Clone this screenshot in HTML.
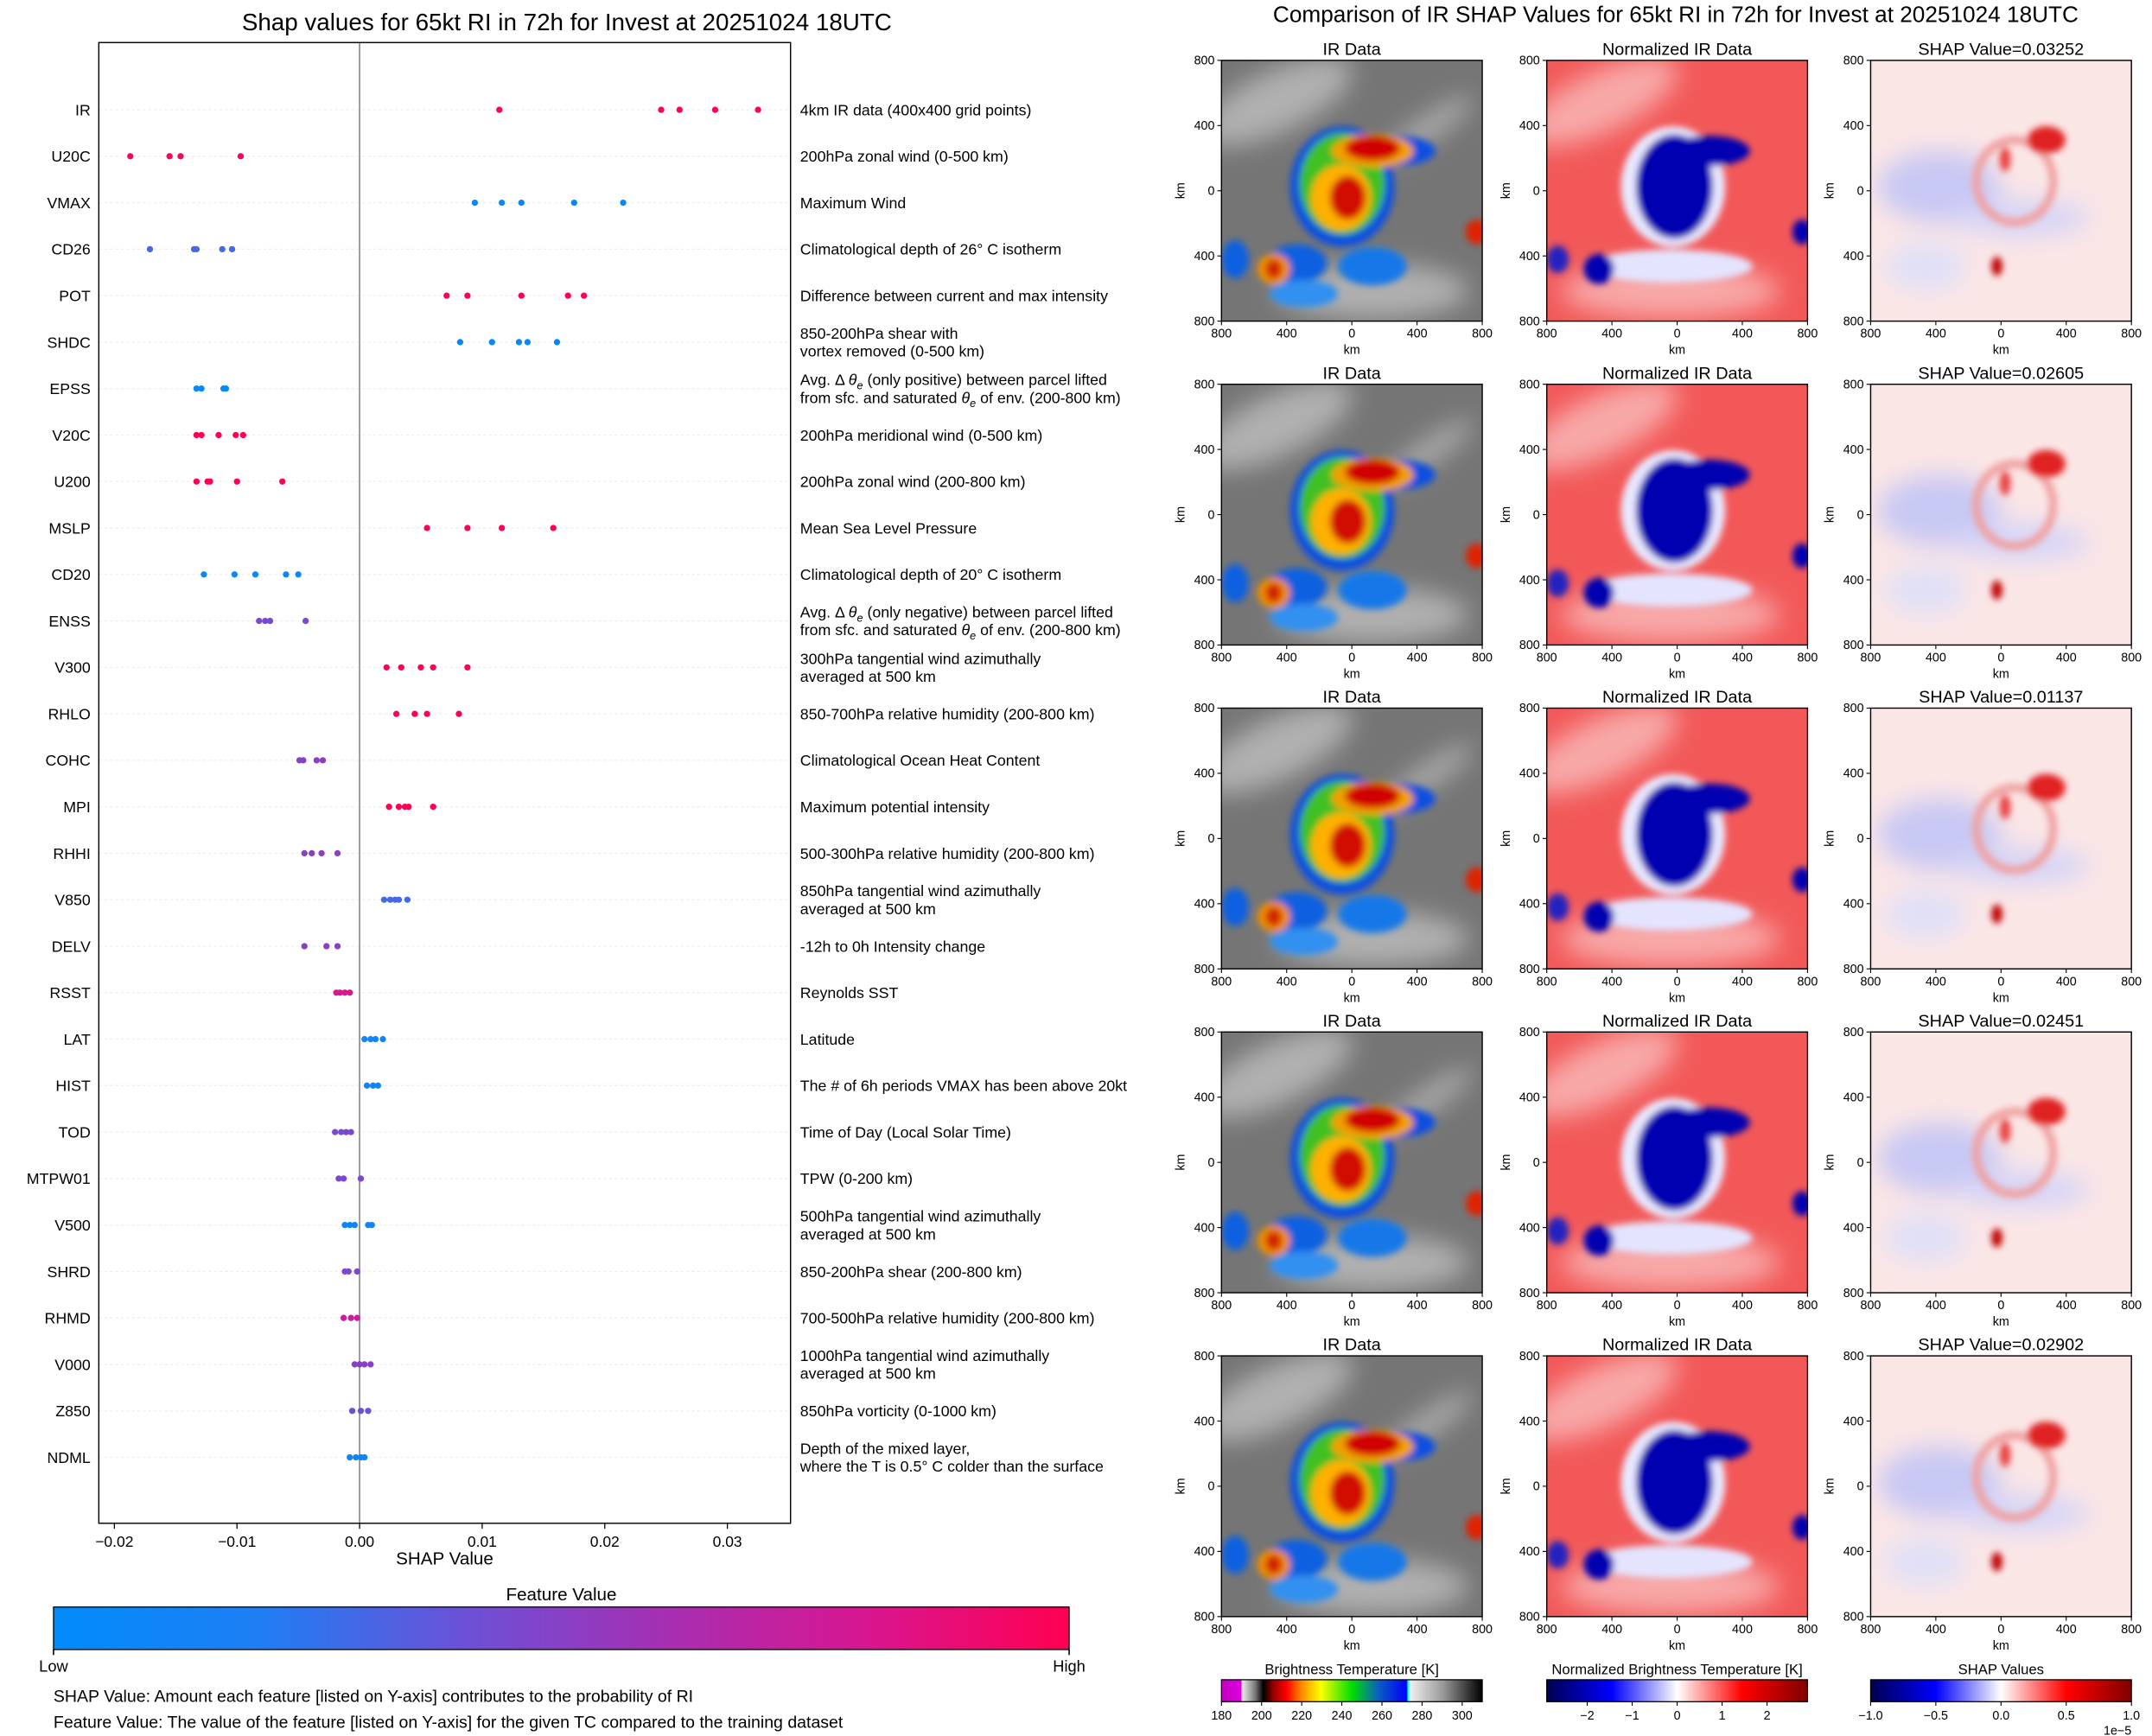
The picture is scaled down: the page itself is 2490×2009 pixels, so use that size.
<!DOCTYPE html>
<html><head><meta charset="utf-8"><style>
html,body{margin:0;padding:0;background:#fff}
svg{display:block}
text{font-family:"Liberation Sans","DejaVu Sans",sans-serif;fill:#000}
</style></head><body>
<svg id="root" width="2490" height="2009" viewBox="0 0 1568 1265" preserveAspectRatio="none" xmlns="http://www.w3.org/2000/svg">
<defs>
<linearGradient id="shapcm" x1="0" x2="1" y1="0" y2="0">
<stop offset="0" stop-color="#008bfb"/><stop offset="0.2" stop-color="#1e7ef4"/><stop offset="0.4" stop-color="#6a52d8"/><stop offset="0.6" stop-color="#a52fb2"/><stop offset="0.8" stop-color="#d81690"/><stop offset="1" stop-color="#ff0052"/>
</linearGradient>
<linearGradient id="ircm" x1="0" x2="1">
<stop offset="0" stop-color="#c000c0"/><stop offset="0.076" stop-color="#e000e0"/><stop offset="0.078" stop-color="#f0f0f0"/><stop offset="0.13" stop-color="#777"/><stop offset="0.16" stop-color="#000"/><stop offset="0.2" stop-color="#900"/><stop offset="0.25" stop-color="#f00"/><stop offset="0.31" stop-color="#ff9000"/><stop offset="0.38" stop-color="#ff0"/><stop offset="0.5" stop-color="#0d0"/><stop offset="0.6" stop-color="#0a60c0"/><stop offset="0.71" stop-color="#00f"/><stop offset="0.715" stop-color="#0ff"/><stop offset="0.725" stop-color="#eee"/><stop offset="0.85" stop-color="#999"/><stop offset="1" stop-color="#000"/>
</linearGradient>
<linearGradient id="seis" x1="0" x2="1">
<stop offset="0" stop-color="#000050"/><stop offset="0.25" stop-color="#0000ff"/><stop offset="0.5" stop-color="#ffffff"/><stop offset="0.75" stop-color="#ff0000"/><stop offset="1" stop-color="#800000"/>
</linearGradient>
<filter id="bl" x="-20%" y="-20%" width="140%" height="140%"><feGaussianBlur stdDeviation="2.5"/></filter>
<filter id="bl2" x="-20%" y="-20%" width="140%" height="140%"><feGaussianBlur stdDeviation="9"/></filter>
<clipPath id="pclip"><rect x="0" y="0" width="190" height="190"/></clipPath>
<symbol id="irimg" viewBox="0 0 190 190" width="190" height="190">
<g clip-path="url(#pclip)">
<rect width="190" height="190" fill="#757575"/>
<g filter="url(#bl2)" fill="#b0b0b0"><ellipse cx="40" cy="30" rx="60" ry="22" transform="rotate(-25 40 30)"/><ellipse cx="110" cy="168" rx="70" ry="20"/><ellipse cx="150" cy="50" rx="40" ry="8" transform="rotate(-35 150 50)"/></g>
<g filter="url(#bl)">
<ellipse cx="55" cy="148" rx="22" ry="14" fill="#1060e0"/>
<ellipse cx="110" cy="150" rx="25" ry="14" fill="#1878e8"/>
<ellipse cx="60" cy="170" rx="25" ry="10" fill="#3090f0"/>
<ellipse cx="10" cy="145" rx="10" ry="14" fill="#1060e0"/>
<ellipse cx="88" cy="92" rx="38" ry="44" fill="#1050e0"/>
<ellipse cx="128" cy="66" rx="28" ry="11" fill="#1050e0"/>
<ellipse cx="88" cy="90" rx="31" ry="37" fill="#40c020"/>
<ellipse cx="87" cy="100" rx="22" ry="24" fill="#ffb000"/>
<ellipse cx="110" cy="66" rx="30" ry="12" fill="#f0a000"/>
<ellipse cx="110" cy="64" rx="20" ry="9" fill="#d00000"/>
<ellipse cx="92" cy="100" rx="13" ry="16" fill="#d01000"/>
<ellipse cx="38" cy="152" rx="12" ry="11" fill="#f09000"/>
<ellipse cx="38" cy="152" rx="6" ry="7" fill="#d02000"/>
<ellipse cx="186" cy="125" rx="8" ry="9" fill="#e02000"/>
</g></g></symbol>
<symbol id="nrimg" viewBox="0 0 190 190" width="190" height="190">
<g clip-path="url(#pclip)">
<rect width="190" height="190" fill="#f25858"/>
<g filter="url(#bl2)" fill="#f8a8a8"><ellipse cx="40" cy="30" rx="60" ry="22" transform="rotate(-25 40 30)"/><ellipse cx="90" cy="168" rx="80" ry="20"/></g>
<g filter="url(#bl)">
<ellipse cx="92" cy="92" rx="38" ry="44" fill="#e8e8ff"/>
<ellipse cx="90" cy="150" rx="60" ry="12" fill="#e4e4ff"/>
<ellipse cx="93" cy="92" rx="28" ry="38" fill="#0000b0"/>
<ellipse cx="118" cy="66" rx="30" ry="11" fill="#0000b0"/>
<ellipse cx="38" cy="152" rx="11" ry="11" fill="#0000b0"/>
<ellipse cx="8" cy="145" rx="8" ry="10" fill="#2020c0"/>
<ellipse cx="186" cy="125" rx="7" ry="9" fill="#0000b0"/>
</g></g></symbol>
<symbol id="shimg" viewBox="0 0 190 190" width="190" height="190">
<g clip-path="url(#pclip)">
<rect width="190" height="190" fill="#fbe6e6"/>
<g filter="url(#bl2)">
<ellipse cx="50" cy="92" rx="45" ry="26" fill="#c8c8f4"/>
<ellipse cx="110" cy="115" rx="50" ry="13" fill="#d4d4f8"/>
<ellipse cx="40" cy="150" rx="30" ry="18" fill="#e0e0f8"/>
</g>
<g filter="url(#bl)">
<ellipse cx="105" cy="88" rx="28" ry="30" fill="none" stroke="#f0a0a0" stroke-width="6"/>
<ellipse cx="128" cy="58" rx="14" ry="10" fill="#e02020"/>
<ellipse cx="98" cy="72" rx="4" ry="9" fill="#e84040"/>
<ellipse cx="92" cy="150" rx="4" ry="7" fill="#c00000"/>
</g></g></symbol>
</defs>
</svg>
<script>
// ---- left chart data ----
const features = ["IR","U20C","VMAX","CD26","POT","SHDC","EPSS","V20C","U200","MSLP","CD20","ENSS","V300","RHLO","COHC","MPI","RHHI","V850","DELV","RSST","LAT","HIST","TOD","MTPW01","V500","SHRD","RHMD","V000","Z850","NDML"];
const descriptions = [["4km IR data (400x400 grid points)"],["200hPa zonal wind (0-500 km)"],["Maximum Wind"],["Climatological depth of 26° C isotherm"],["Difference between current and max intensity"],["850-200hPa shear with","vortex removed (0-500 km)"],["Avg. Δ θe (only positive) between parcel lifted","from sfc. and saturated θe of env. (200-800 km)"],["200hPa meridional wind (0-500 km)"],["200hPa zonal wind (200-800 km)"],["Mean Sea Level Pressure"],["Climatological depth of 20° C isotherm"],["Avg. Δ θe (only negative) between parcel lifted","from sfc. and saturated θe of env. (200-800 km)"],["300hPa tangential wind azimuthally","averaged at 500 km"],["850-700hPa relative humidity (200-800 km)"],["Climatological Ocean Heat Content"],["Maximum potential intensity"],["500-300hPa relative humidity (200-800 km)"],["850hPa tangential wind azimuthally","averaged at 500 km"],["-12h to 0h Intensity change"],["Reynolds SST"],["Latitude"],["The # of 6h periods VMAX has been above 20kt"],["Time of Day (Local Solar Time)"],["TPW (0-200 km)"],["500hPa tangential wind azimuthally","averaged at 500 km"],["850-200hPa shear (200-800 km)"],["700-500hPa relative humidity (200-800 km)"],["1000hPa tangential wind azimuthally","averaged at 500 km"],["850hPa vorticity (0-1000 km)"],["Depth of the mixed layer,","where the T is 0.5° C colder than the surface"]];
const shapValues = [[0.0114,0.0246,0.0261,0.029,0.0325],[-0.0187,-0.0155,-0.0146,-0.0097],[0.0094,0.0116,0.0132,0.0175,0.0215],[-0.0171,-0.0135,-0.0133,-0.0112,-0.0104],[0.0071,0.0088,0.0132,0.017,0.0183],[0.0082,0.0108,0.013,0.0137,0.0161],[-0.0133,-0.0129,-0.0111,-0.0109],[-0.0133,-0.0129,-0.0115,-0.0101,-0.0095],[-0.0133,-0.0124,-0.0122,-0.01,-0.0063],[0.0055,0.0088,0.0116,0.0158],[-0.0127,-0.0102,-0.0085,-0.006,-0.005],[-0.0082,-0.0077,-0.0073,-0.0044],[0.0022,0.0034,0.005,0.006,0.0088],[0.003,0.0045,0.0055,0.0081],[-0.0049,-0.0046,-0.0035,-0.003],[0.0024,0.0032,0.0037,0.004,0.006],[-0.0045,-0.0039,-0.0031,-0.0018],[0.002,0.0025,0.0029,0.0032,0.0039],[-0.0045,-0.0027,-0.0018],[-0.0019,-0.0016,-0.0012,-0.0008],[0.0004,0.0009,0.0013,0.0019],[0.0006,0.0011,0.0015],[-0.002,-0.0015,-0.0011,-0.0007],[-0.0017,-0.0013,0.0001],[-0.0012,-0.0008,-0.0004,0.0007,0.001],[-0.0012,-0.0009,-0.0002],[-0.0013,-0.0007,-0.0002],[-0.0004,0,0.0004,0.0009],[-0.0006,0.0001,0.0007],[-0.0008,-0.0003,0.0001,0.0004]];
const featureValues = [1,0.95,0.03,0.3,1,0.03,0.05,1,1,1,0.05,0.45,1,1,0.5,1,0.5,0.3,0.5,0.8,0.1,0.1,0.45,0.45,0.1,0.45,0.75,0.5,0.4,0.1];
const xTicks = [-0.02,-0.01,0.00,0.01,0.02,0.03];
const xTickLabels = ["−0.02","−0.01","0.00","0.01","0.02","0.03"];
// ---- right panel data ----
const shapTitles = ["0.03252","0.02605","0.01137","0.02451","0.02902"];
const kmTicks = [-800,-400,0,400,800];
const kmTickLabels = ["800","400","0","400","800"];
const irCbTicks = [180,200,220,240,260,280,300];
const nrCbTicks = [-2,-1,0,1,2];
const shCbTicks = [-1,-0.5,0,0.5,1];
const shCbLabels = ["−1.0","−0.5","0.0","0.5","1.0"];

const NS="http://www.w3.org/2000/svg";
const root=document.getElementById('root');
function el(tag,attrs,parent,txt){const e=document.createElementNS(NS,tag);for(const k in attrs)e.setAttribute(k,attrs[k]);if(txt!==undefined)e.textContent=txt;(parent||root).appendChild(e);return e;}

const AX={l:72,r:576,t:31,b:1110};
const xs=v=>262+v*8933;
const ys=i=>80+i*33.86;
const cstops=[[0,[0,139,251]],[0.2,[30,126,244]],[0.4,[106,82,216]],[0.6,[165,47,178]],[0.8,[216,22,144]],[1,[255,0,82]]];
function cmap(t){for(let i=1;i<cstops.length;i++){if(t<=cstops[i][0]){const a=cstops[i-1],b=cstops[i];const f=(t-a[0])/(b[0]-a[0]);const c=a[1].map((v,j)=>Math.round(v+(b[1][j]-v)*f));return `rgb(${c})`;}}return 'rgb(255,0,82)';}

const title=el('text',{x:413,y:22,'font-size':17.5,'text-anchor':'middle'},root,'Shap values for 65kt RI in 72h for Invest at 20251024 18UTC');


const plot=el('g',{});

features.forEach((f,i)=>{
  const g=el('line',{x1:AX.l,x2:AX.r,y1:ys(i),y2:ys(i),stroke:'#eeeeee','stroke-width':0.8,'stroke-dasharray':'2 2'},plot);
  
});
const zl=el('line',{x1:xs(0),x2:xs(0),y1:AX.t,y2:AX.b,stroke:'#999','stroke-width':1.2},plot);

features.forEach((f,i)=>{
  const lab=el('text',{x:66,y:ys(i)+4,'font-size':11.2,'text-anchor':'end'},plot,f);
  
  const d=descriptions[i];
  const baseY=ys(i)+4-(d.length-1)*6.5;
  d.forEach((line,j)=>{
    const dt=el('text',{x:583,y:baseY+j*13,'font-size':11.2},plot);
    
    if(line.includes('θe')){
      const parts=line.split('θe');
      el('tspan',{},dt,parts[0]);
      el('tspan',{'font-style':'italic'},dt,'θ');
      el('tspan',{'font-size':8,'font-style':'italic',dy:3},dt,'e');
      el('tspan',{dy:-3},dt,parts[1]);
    } else dt.textContent=line;
  });
  shapValues[i].forEach(v=>{
    const c=el('circle',{cx:xs(v),cy:ys(i),r:2.3,fill:cmap(featureValues[i])},plot);
    
  });
});
const frame=el('rect',{x:AX.l,y:AX.t,width:AX.r-AX.l,height:AX.b-AX.t,fill:'none',stroke:'#000','stroke-width':0.9},plot);

xTicks.forEach((v,i)=>{
  el('line',{x1:xs(v),x2:xs(v),y1:AX.b,y2:AX.b+4,stroke:'#000','stroke-width':0.8},plot);
  const t=el('text',{x:xs(v),y:AX.b+17,'font-size':11,'text-anchor':'middle'},plot,xTickLabels[i]);
  
});
const xt=el('text',{x:324,y:1140,'font-size':13,'text-anchor':'middle'},root,'SHAP Value');

const fvt=el('text',{x:409,y:1166,'font-size':13,'text-anchor':'middle'},root,'Feature Value');

const cb=el('rect',{x:39,y:1171,width:740,height:31,fill:'url(#shapcm)',stroke:'#000','stroke-width':0.8});

el('line',{x1:39,x2:39,y1:1202,y2:1206,stroke:'#000'});el('line',{x1:779,x2:779,y1:1202,y2:1206,stroke:'#000'});
const lo=el('text',{x:39,y:1218,'font-size':11.5,'text-anchor':'middle'},root,'Low');
const hi=el('text',{x:779,y:1218,'font-size':11.5,'text-anchor':'middle'},root,'High');
const n1=el('text',{x:39,y:1240,'font-size':12.3},root,'SHAP Value: Amount each feature [listed on Y-axis] contributes to the probability of RI');

const n2=el('text',{x:39,y:1259,'font-size':12.3},root,'Feature Value: The value of the feature [listed on Y-axis] for the given TC compared to the training dataset');


const rt=el('text',{x:1221,y:16,'font-size':16.5,'text-anchor':'middle'},root,'Comparison of IR SHAP Values for 65kt RI in 72h for Invest at 20251024 18UTC');

const colX=[890,1127,1363];
const rowY=[44,280,516,752,988];
const PS=190;
const kx=v=>(v+800)/1600*PS;
const imgs=['#irimg','#nrimg','#shimg'];
const names=['ir-data-panel','normalized-ir-panel','shap-map-panel'];
rowY.forEach((py,r)=>{
  colX.forEach((px,c)=>{
    const g=el('g',{transform:`translate(${px},${py})`});
    
    el('use',{href:imgs[c],x:0,y:0,width:PS,height:PS},g);
    el('rect',{x:0,y:0,width:PS,height:PS,fill:'none',stroke:'#000','stroke-width':0.9},g);
    const tt=c===0?'IR Data':c===1?'Normalized IR Data':'SHAP Value='+shapTitles[r];
    const t=el('text',{x:PS/2,y:-4,'font-size':12.5,'text-anchor':'middle'},g,tt);
    
    kmTicks.forEach((v,i)=>{
      el('line',{x1:kx(v),x2:kx(v),y1:PS,y2:PS+3,stroke:'#000','stroke-width':0.7},g);
      el('text',{x:kx(v),y:PS+12,'font-size':9,'text-anchor':'middle'},g,kmTickLabels[i]);
      el('line',{x1:-3,x2:0,y1:kx(v),y2:kx(v),stroke:'#000','stroke-width':0.7},g);
      el('text',{x:-5,y:kx(v)+3,'font-size':9,'text-anchor':'end'},g,kmTickLabels[i]);
    });
    el('text',{x:PS/2,y:PS+24,'font-size':9,'text-anchor':'middle'},g,'km');
    el('text',{x:0,y:0,'font-size':9,'text-anchor':'middle',transform:`translate(-27,${PS/2}) rotate(-90)`},g,'km');
  });
});
function colorbar(x,title,fill,ticks,labels,vmin,vmax,name){
  const g=el('g',{transform:`translate(${x},1224)`});
  
  el('text',{x:PS/2,y:-4,'font-size':10.5,'text-anchor':'middle'},g,title);
  el('rect',{x:0,y:0,width:PS,height:16,fill:fill,stroke:'#000','stroke-width':0.8},g);
  ticks.forEach((v,i)=>{const tx=(v-vmin)/(vmax-vmin)*PS;
    el('line',{x1:tx,x2:tx,y1:16,y2:19,stroke:'#000','stroke-width':0.7},g);
    el('text',{x:tx,y:29,'font-size':9,'text-anchor':'middle'},g,labels[i]);});
  return g;
}
colorbar(890,'Brightness Temperature [K]','url(#ircm)',irCbTicks,irCbTicks.map(String),180,310,'ir-colorbar');
colorbar(1127,'Normalized Brightness Temperature [K]','url(#seis)',nrCbTicks,nrCbTicks.map(v=>v<0?'−'+(-v):String(v)),-2.9,2.9,'normalized-colorbar');
const sg=colorbar(1363,'SHAP Values','url(#seis)',shCbTicks,shCbLabels,-1,1,'shap-colorbar');
el('text',{x:PS,y:40,'font-size':9,'text-anchor':'end'},sg,'1e−5');
</script>
</body></html>
